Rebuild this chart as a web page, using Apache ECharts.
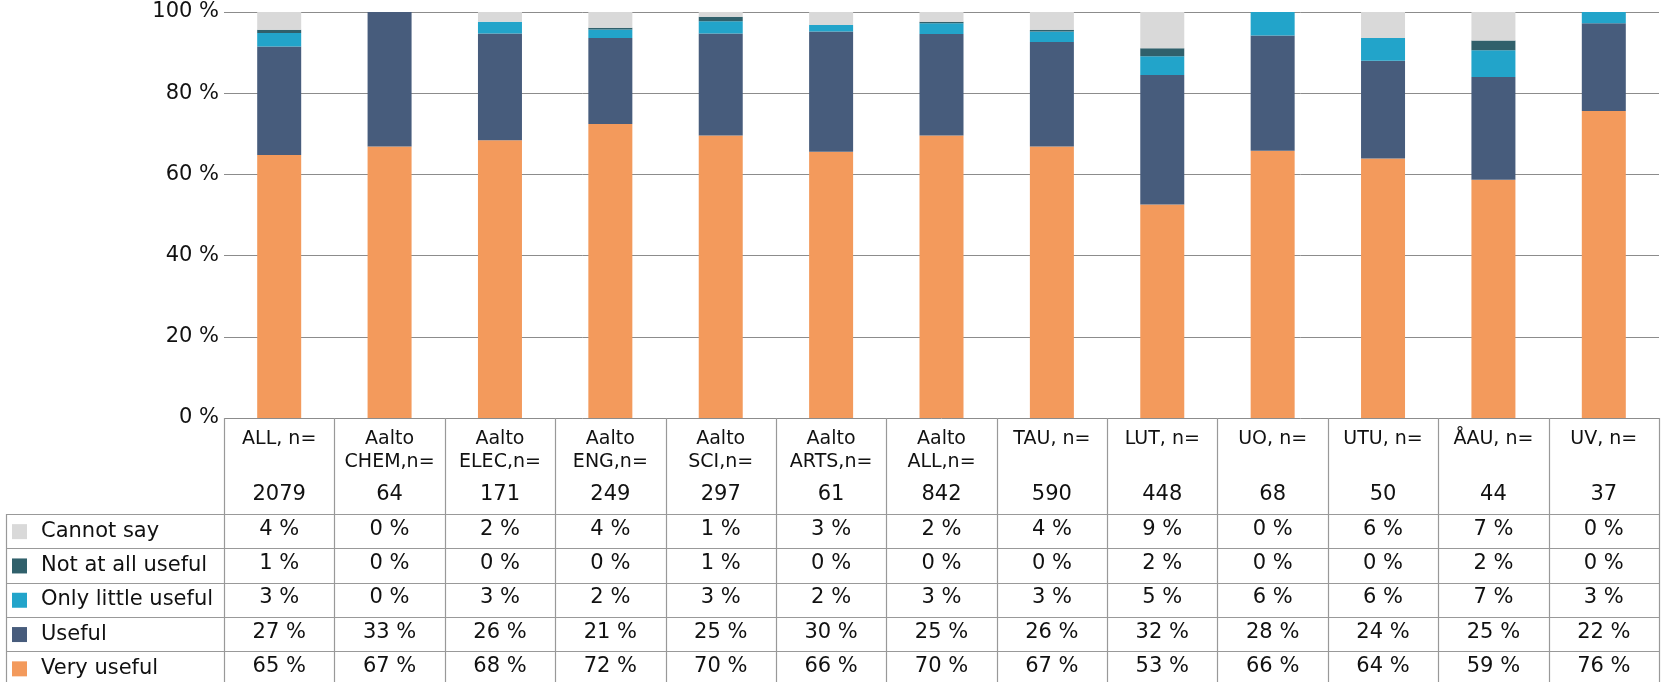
<!DOCTYPE html>
<html><head><meta charset="utf-8">
<script src="https://cdn.jsdelivr.net/npm/echarts@6/dist/echarts.min.js"></script>
<style>html,body{margin:0;padding:0;background:#fff}#c{width:1664px;height:682px}</style>
</head><body><div id="c"></div>
<script>
const categories = ['ALL, n=', 'Aalto\nCHEM,n=', 'Aalto\nELEC,n=', 'Aalto\nENG,n=', 'Aalto\nSCI,n=', 'Aalto\nARTS,n=', 'Aalto\nALL,n=', 'TAU, n=', 'LUT, n=', 'UO, n=', 'UTU, n=', 'ÅAU, n=', 'UV, n='];
const nValues = [2079, 64, 171, 249, 297, 61, 842, 590, 448, 68, 50, 44, 37];
const veryUseful       = [64.8, 66.9, 68.4, 72.4, 69.6, 65.6, 69.6, 66.9, 52.6, 65.8, 63.9, 58.7, 75.6];
const useful           = [26.7, 33.1, 26.3, 21.2, 25.1, 29.6, 25.0, 25.7, 31.9, 28.4, 24.1, 25.3, 21.6];
const onlyLittleUseful = [3.3, 0, 2.9, 2.1, 3.0, 1.6, 2.6, 2.6, 4.6, 5.8, 5.6, 6.6, 2.8];
const notAtAllUseful   = [0.8, 0, 0, 0.4, 1.1, 0, 0.4, 0.4, 2.0, 0, 0, 2.4, 0];
const cannotSay        = [4.4, 0, 2.4, 3.9, 1.2, 3.2, 2.4, 4.4, 8.9, 0, 6.4, 7.0, 0];
const yTicks = [0, 20, 40, 60, 80, 100];

const FONT = '"DejaVu Sans", sans-serif';
const seriesDefs = [
  {name: 'Very useful', data: veryUseful, color: '#F39A5C'},
  {name: 'Useful', data: useful, color: '#475C7C'},
  {name: 'Only little useful', data: onlyLittleUseful, color: '#22A4CA'},
  {name: 'Not at all useful', data: notAtAllUseful, color: '#30606B'},
  {name: 'Cannot say', data: cannotSay, color: '#D9D9D9'}
];
const tableRows = seriesDefs.slice().reverse();

const chart = echarts.init(document.getElementById('c'), null, {renderer: 'canvas'});
chart.setOption({
  animation: false,
  backgroundColor: '#fff',
  grid: {left: 224, right: 5, top: 12, bottom: 264, containLabel: false},
  xAxis: {
    type: 'category', data: categories,
    axisLine: {show: false}, axisTick: {show: false}, axisLabel: {show: false}
  },
  yAxis: {
    type: 'value', min: yTicks[0], max: yTicks[yTicks.length - 1], interval: yTicks[1] - yTicks[0],
    axisLine: {show: false}, axisTick: {show: false},
    axisLabel: {formatter: v => v + ' %', color: '#111', fontSize: 21, fontFamily: FONT, margin: 5},
    splitLine: {lineStyle: {color: '#8c8c8c', width: 1}}
  },
  series: seriesDefs.map(s => ({
    name: s.name, type: 'bar', stack: 'total', data: s.data, barWidth: 44,
    itemStyle: {color: s.color}
  }))
});

function buildTable() {
  const xs = categories.map((_, i) => chart.convertToPixel({xAxisIndex: 0}, i));
  const band = xs[1] - xs[0];
  const yTop = chart.convertToPixel({yAxisIndex: 0}, 0);
  const headerH = 96;
  const rowH = 34.3;
  const headerBottom = yTop + headerH;
  const legendLeft = 6;
  const tableRight = xs[xs.length - 1] + band / 2;
  const H = 682;
  const lineColor = '#999';
  const els = [];
  // horizontal lines
  for (let k = 0; k < tableRows.length; k++) {
    const y = Math.round(headerBottom + k * rowH) + 0.5;
    els.push({type: 'line', shape: {x1: legendLeft, y1: y, x2: tableRight, y2: y}, style: {stroke: lineColor, lineWidth: 1.2}});
  }
  // vertical lines
  for (let i = 0; i <= categories.length; i++) {
    const x = Math.round(xs[0] - band / 2 + i * band) + 0.5;
    els.push({type: 'line', shape: {x1: x, y1: yTop, x2: x, y2: H}, style: {stroke: lineColor, lineWidth: 1.2}});
  }
  els.push({type: 'line', shape: {x1: legendLeft + 0.5, y1: headerBottom, x2: legendLeft + 0.5, y2: H}, style: {stroke: lineColor, lineWidth: 1.2}});
  // header
  categories.forEach((c, i) => {
    els.push({type: 'text', style: {text: c, x: xs[i], y: yTop + 10, align: 'center', verticalAlign: 'top', fill: '#111', font: '19px ' + FONT, lineHeight: 23}});
    els.push({type: 'text', style: {text: String(nValues[i]), x: xs[i], y: yTop + 77, align: 'center', verticalAlign: 'middle', fill: '#111', font: '21px ' + FONT}});
  });
  // rows
  tableRows.forEach((r, k) => {
    const yc = headerBottom + k * rowH + rowH / 2;
    els.push({type: 'rect', shape: {x: 12, y: yc - 7, width: 15, height: 15}, style: {fill: r.color}});
    els.push({type: 'text', style: {text: r.name, x: 41, y: yc, align: 'left', verticalAlign: 'middle', fill: '#111', font: '21px ' + FONT}});
    r.data.forEach((v, i) => {
      els.push({type: 'text', style: {text: Math.round(v) + ' %', x: xs[i], y: yc - 2, align: 'center', verticalAlign: 'middle', fill: '#111', font: '21px ' + FONT}});
    });
  });
  chart.setOption({graphic: {elements: els}});
}
buildTable();
</script>
</body></html>
